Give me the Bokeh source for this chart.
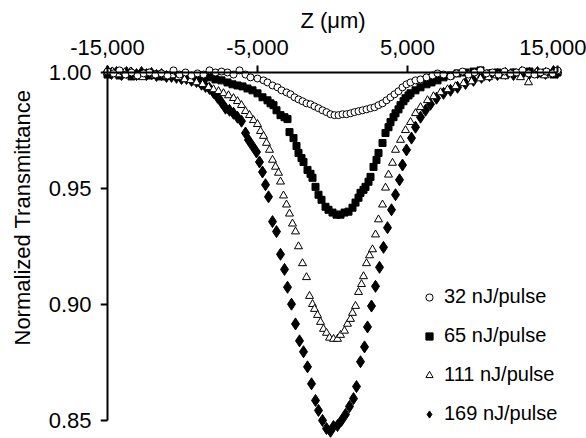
import math
from bokeh.plotting import figure
from bokeh.models import (Range1d, FixedTicker, NumeralTickFormatter, Legend, LegendItem,
                          LinearAxis, Title)
from bokeh.embed import file_html
from bokeh.resources import INLINE

series_labels = ["32 nJ/pulse", "65 nJ/pulse", "111 nJ/pulse", "169 nJ/pulse"]
x_ticks = [-15000, -5000, 5000, 15000]
y_ticks = [0.85, 0.90, 0.95, 1.00]
x_title = "Z (\u03bcm)"
y_title = "Normalized Transmittance"

# 32 nJ/pulse (open circles)
z_32 = [-15000, -14600, -14200, -13800, -13400, -13000, -12600, -12200, -11800, -11400,
        -11000, -10600, -10200, -9800, -9400, -9000, -8600, -8200, -7800, -7400,
        -7000, -6600, -6200, -5800, -5467, -5000, -4600, -4333, -4000, -3667,
        -3400, -3067, -2800, -2533, -2267, -2000, -1733, -1467, -1200, -933,
        -667, -400, -133, 133, 400, 667, 933, 1200, 1467, 1733,
        2000, 2267, 2533, 2800, 3067, 3333, 3600, 3867, 4133, 4400,
        4667, 4933, 5200, 5533, 5867, 6267, 6667, 7000, 7400, 7867,
        8267, 8667, 9067, 9467, 9867, 10267, 10667, 11067, 11467, 11867,
        12267, 12667, 13067, 13467, 13867, 14267, 14667, 15000]
t_32 = [1.0004, 0.9996, 1.0009, 0.9991, 1.0, 0.9987, 0.9996, 1.0, 0.9991, 0.9996,
        0.9987, 1.0009, 0.9991, 1.0, 0.9987, 0.9996, 0.9991, 1.0009, 1.0, 1.0004,
        1.0, 0.9991, 1.0009, 0.9991, 0.9979, 0.9974, 0.9966, 0.9957, 0.9944, 0.9936,
        0.9923, 0.9914, 0.9906, 0.9893, 0.9884, 0.9876, 0.9867, 0.9863, 0.9854, 0.9846,
        0.9837, 0.9829, 0.9820, 0.9816, 0.9816, 0.9820, 0.9820, 0.9824, 0.9829, 0.9833,
        0.9837, 0.9841, 0.9846, 0.9850, 0.9859, 0.9867, 0.9880, 0.9893, 0.9906, 0.9919,
        0.9936, 0.9949, 0.9957, 0.9966, 0.9970, 0.9979, 0.9987, 0.9996, 0.9991, 0.9983,
        0.9996, 1.0004, 0.9991, 1.0, 1.0009, 0.9996, 1.0, 0.9991, 1.0004, 0.9996,
        1.0, 1.0009, 0.9996, 0.9991, 1.0, 1.0004, 0.9996, 1.0009]

# 65 nJ/pulse (filled squares)
z_65 = [-15000, -14600, -14200, -13800, -13400, -13000, -12600, -12200, -11800, -11400,
        -11000, -10600, -10200, -9800, -9400, -9000, -8600, -8200, -7800, -7400,
        -7000, -6667, -6333, -6000, -5667, -5333, -5000, -4667, -4333, -4133,
        -3933, -3733, -3467, -3200, -3000, -2867, -2600, -2400, -2267, -2067,
        -1933, -1667, -1467, -1333, -1133, -933, -733, -467, -267, 0,
        267, 533, 800, 1067, 1333, 1533, 1733, 1867, 2067, 2200,
        2400, 2533, 2733, 2933, 3067, 3333, 3533, 3733, 3867, 4067,
        4200, 4400, 4533, 4733, 4867, 5067, 5200, 5533, 5867, 6267,
        6600, 7000, 7400, 7867, 8333, 8867, 9400, 9867, 10467, 11000,
        11533, 12067, 12600, 13133, 13667, 14200, 14733, 15000]
t_65 = [0.9991, 1.0, 0.9987, 0.9996, 0.9983, 0.9991, 0.9996, 0.9987, 0.9991, 0.9983,
        0.9987, 0.9991, 0.9983, 0.9987, 0.9979, 0.9983, 0.9974, 0.9979, 0.9970, 0.9966,
        0.9957, 0.9949, 0.9944, 0.9940, 0.9931, 0.9923, 0.9910, 0.9893, 0.9880, 0.9867,
        0.9859, 0.9837, 0.9816, 0.9807, 0.9799, 0.9743, 0.9717, 0.9683, 0.9653, 0.9631,
        0.9614, 0.9580, 0.9563, 0.9546, 0.9507, 0.9473, 0.9451, 0.9421, 0.9408, 0.9396,
        0.9387, 0.9387, 0.9396, 0.9400, 0.9417, 0.9439, 0.9460, 0.9481, 0.9494, 0.9507,
        0.9529, 0.9550, 0.9593, 0.9623, 0.9653, 0.9696, 0.9739, 0.9764, 0.9786, 0.9807,
        0.9824, 0.9841, 0.9859, 0.9876, 0.9889, 0.9901, 0.9910, 0.9923, 0.9936, 0.9949,
        0.9957, 0.9966, 0.9979, 0.9987, 0.9996, 1.0, 1.0004, 1.0009, 0.9996, 1.0,
        0.9991, 1.0, 0.9996, 1.0004, 0.9996, 1.0, 0.9991, 1.0]

# 111 nJ/pulse (open triangles)
z_111 = [-15000, -14667, -14267, -13867, -13467, -13067, -12667, -12267, -11867, -11467,
         -11067, -10667, -10267, -9867, -9467, -9067, -8667, -8267, -7933, -7600,
         -7267, -6933, -6600, -6333, -6067, -5800, -5533, -5267, -5000, -4800,
         -4600, -4400, -4200, -4000, -3800, -3600, -3467, -3267, -3067, -2867,
         -2667, -2467, -2267, -2000, -1733, -1533, -1333, -1200, -1000, -800,
         -600, -400, -200, 67, 333, 533, 800, 1000, 1200, 1333,
         1533, 1733, 1933, 2067, 2267, 2467, 2667, 2867, 3067, 3333,
         3533, 3733, 4000, 4200, 4533, 4867, 5200, 5533, 5867, 6333,
         6733, 7200, 7667, 8200, 8733, 9267, 9867, 10400, 10933, 11467,
         12000, 12533, 13067, 13600, 14133, 14667, 15000]
t_111 = [1.0, 1.0004, 0.9991, 1.0, 1.0004, 0.9983, 0.9979, 0.9996, 0.9987, 0.9991,
         0.9983, 0.9987, 0.9979, 0.9970, 0.9966, 0.9957, 0.9949, 0.9936, 0.9927, 0.9919,
         0.9910, 0.9901, 0.9889, 0.9876, 0.9859, 0.9833, 0.9816, 0.9794, 0.9777, 0.9747,
         0.9726, 0.9696, 0.9666, 0.9623, 0.9593, 0.9567, 0.9529, 0.9469, 0.9430, 0.9391,
         0.9348, 0.9314, 0.9250, 0.9177, 0.9117, 0.9036, 0.9001, 0.8980, 0.8954, 0.8924,
         0.8894, 0.8877, 0.8856, 0.8851, 0.8851, 0.8868, 0.8886, 0.8916, 0.8937, 0.8963,
         0.8993, 0.9053, 0.9087, 0.9121, 0.9177, 0.9211, 0.9237, 0.9301, 0.9366, 0.9430,
         0.9503, 0.9559, 0.9610, 0.9666, 0.9709, 0.9751, 0.9786, 0.9824, 0.9850, 0.9880,
         0.9897, 0.9914, 0.9927, 0.9940, 0.9953, 0.9961, 0.9974, 0.9979, 0.9987, 0.9983,
         0.9996, 0.9979, 0.9957, 1.0, 0.9987, 0.9996, 1.0004]

# 169 nJ/pulse (filled diamonds)
z_169 = [-15000, -14733, -14400, -14067, -13733, -13400, -13067, -12733, -12400, -12067,
         -11733, -11400, -11067, -10733, -10400, -10067, -9733, -9400, -9067, -8733,
         -8467, -8200, -7933, -7667, -7400, -7133, -6867, -6600, -6333, -6067,
         -5800, -5600, -5333, -5067, -4867, -4667, -4467, -4267, -4000, -3733,
         -3467, -3200, -3000, -2733, -2467, -2200, -1933, -1667, -1400, -1133,
         -933, -667, -400, -133, 67, 333, 600, 867, 1133, 1400,
         1600, 1867, 2133, 2333, 2600, 2867, 3133, 3400, 3667, 3933,
         4200, 4467, 4667, 4933, 5267, 5533, 5867, 6200, 6533, 6933,
         7400, 7867, 8333, 8867, 9400, 9933, 10467, 11000, 11533, 12067,
         12600, 13133, 13667, 14200, 14733, 15000]
t_169 = [1.0004, 0.9996, 1.0, 0.9991, 1.0, 0.9996, 0.9991, 1.0, 0.9991, 0.9996,
         0.9987, 0.9991, 0.9983, 0.9983, 0.9979, 0.9974, 0.9974, 0.9966, 0.9961, 0.9949,
         0.9940, 0.9931, 0.9914, 0.9893, 0.9871, 0.9846, 0.9837, 0.9824, 0.9807, 0.9790,
         0.9739, 0.9709, 0.9683, 0.9657, 0.9614, 0.9571, 0.9516, 0.9464, 0.9357, 0.9314,
         0.9216, 0.9151, 0.9074, 0.9001, 0.8916, 0.8843, 0.8796, 0.8731, 0.8658, 0.8586,
         0.8543, 0.8500, 0.8465, 0.8453, 0.8474, 0.8478, 0.8500, 0.8526, 0.8560, 0.8594,
         0.8646, 0.8753, 0.8817, 0.8903, 0.8993, 0.9078, 0.9160, 0.9246, 0.9331, 0.9408,
         0.9473, 0.9537, 0.9601, 0.9666, 0.9717, 0.9764, 0.9807, 0.9837, 0.9863, 0.9889,
         0.9910, 0.9923, 0.9936, 0.9953, 0.9966, 0.9979, 0.9987, 0.9991, 0.9996, 0.9991,
         1.0, 0.9996, 1.0, 0.9996, 1.0004, 1.0]

FONT = "Liberation Sans"

p = figure(width=586, height=438, output_backend="svg", toolbar_location=None,
           x_range=Range1d(-15467, 15533), y_range=Range1d(0.8422, 1.0043),
           x_axis_location=None, y_axis_location=None,
           min_border_left=100, min_border_right=21, min_border_top=62, min_border_bottom=0)
p.outline_line_color = None
p.background_fill_color = "white"
p.border_fill_color = "white"
p.xgrid.visible = False
p.ygrid.visible = False

# label-carrying axes at the frame edges (no lines, no ticks)
x_lab = LinearAxis(ticker=FixedTicker(ticks=x_ticks), formatter=NumeralTickFormatter(format="0,0"),
                   axis_label=x_title)
y_lab = LinearAxis(ticker=FixedTicker(ticks=y_ticks), formatter=NumeralTickFormatter(format="0.00"))
for ax in (x_lab, y_lab):
    ax.axis_line_color = None
    ax.major_tick_line_color = None
    ax.minor_tick_line_color = None
    ax.major_tick_out = 0
    ax.major_tick_in = 0
    ax.minor_tick_out = 0
    ax.minor_tick_in = 0
    ax.major_label_text_font = FONT
    ax.major_label_text_font_size = "22px"
    ax.major_label_text_color = "black"
    ax.axis_label_text_font = FONT
    ax.axis_label_text_font_size = "22px"
    ax.axis_label_text_font_style = "normal"
    ax.axis_label_text_color = "black"
x_lab.major_label_standoff = 8
y_lab.major_label_standoff = 9
x_lab.axis_label_standoff = 4
p.add_layout(x_lab, "above")
p.add_layout(y_lab, "left")

y_title_obj = Title(text=y_title, align="left", offset=93, vertical_align="top", standoff=17,
                    text_font=FONT, text_font_size="22px", text_font_style="normal",
                    text_color="black")
p.add_layout(y_title_obj, "left")

# axis lines and ticks, drawn at Z = -15,000 and T = 1.00
x_line = LinearAxis(ticker=FixedTicker(ticks=x_ticks), fixed_location=y_ticks[-1],
                    bounds=(x_ticks[0], x_ticks[-1]))
y_line = LinearAxis(ticker=FixedTicker(ticks=y_ticks), fixed_location=x_ticks[0],
                    bounds=(y_ticks[0], y_ticks[-1]))
for ax, ticks in ((x_line, x_ticks), (y_line, y_ticks)):
    ax.axis_line_width = 2
    ax.axis_line_color = "black"
    ax.major_tick_line_width = 2
    ax.major_tick_line_color = "black"
    ax.major_tick_out = 7
    ax.major_tick_in = 0
    ax.minor_tick_out = 0
    ax.minor_tick_in = 0
    ax.major_label_overrides = {t: "" for t in ticks}
    ax.major_label_standoff = 0
p.add_layout(x_line, "above")
p.add_layout(y_line, "left")

r169 = p.scatter(z_169, t_169, marker="diamond", size=12,
                 fill_color="black", line_color="black", line_width=1)
r65 = p.scatter(z_65, t_65, marker="square", size=7,
                fill_color="black", line_color="black", line_width=1)
r111 = p.scatter(z_111, t_111, marker="triangle", size=8,
                 fill_color="white", line_color="black", line_width=1)
r32 = p.scatter(z_32, t_32, marker="circle", size=7,
                fill_color="white", line_color="black", line_width=1)

legend = Legend(items=[LegendItem(label=series_labels[0], renderers=[r32]),
                       LegendItem(label=series_labels[1], renderers=[r65]),
                       LegendItem(label=series_labels[2], renderers=[r111]),
                       LegendItem(label=series_labels[3], renderers=[r169])],
                location=(320, 13), border_line_color=None, background_fill_alpha=0,
                label_text_font=FONT, label_text_font_size="20px", label_text_color="black",
                glyph_width=18, glyph_height=18, label_height=20, spacing=16,
                padding=0, margin=0, label_standoff=6)
p.add_layout(legend)

open("out.html", "w").write(file_html(p, INLINE))
